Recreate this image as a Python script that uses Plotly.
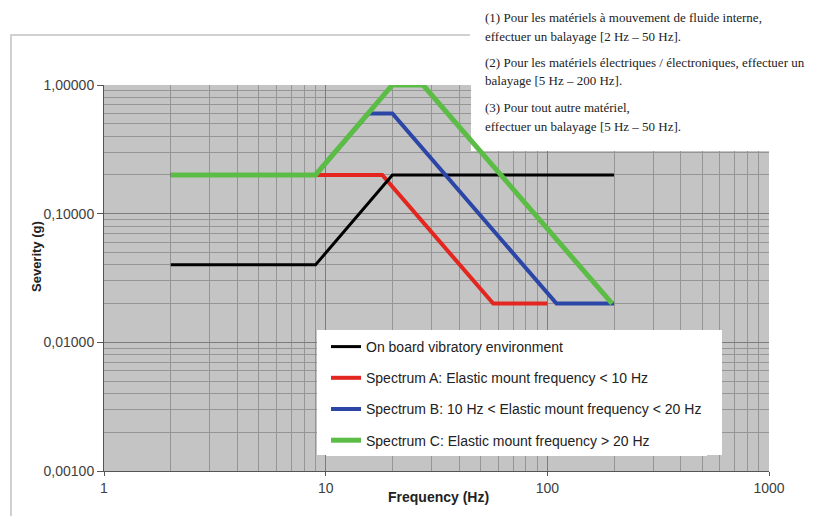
import plotly.graph_objects as go

# ---- data ----
black_f = [2, 9, 20, 200]
black_g = [0.04, 0.04, 0.2, 0.2]
red_f = [2, 18, 57, 100]
red_g = [0.2, 0.2, 0.02, 0.02]
blue_f = [2, 9, 15.6, 20, 110, 200]
blue_g = [0.2, 0.2, 0.6, 0.6, 0.02, 0.02]
green_f = [2, 9, 20, 27.5, 196]
green_g = [0.2, 0.2, 1.0, 1.0, 0.02]

names = ["On board vibratory environment",
         "Spectrum A: Elastic mount frequency < 10 Hz",
         "Spectrum B: 10 Hz < Elastic mount frequency < 20 Hz",
         "Spectrum C: Elastic mount frequency > 20 Hz"]

x_ticks = [1, 10, 100, 1000]
x_ticktext = ["1", "10", "100", "1000"]
y_ticks = [0.001, 0.01, 0.1, 1]
y_ticktext = ["0,00100", "0,01000", "0,10000", "1,00000"]

notes = ["(1) Pour les matériels à mouvement de fluide interne,",
         "effectuer un balayage [2 Hz – 50 Hz].",
         "(2) Pour les matériels électriques / électroniques, effectuer un",
         "balayage [5 Hz – 200 Hz].",
         "(3) Pour tout autre matériel,",
         "effectuer un balayage [5 Hz – 50 Hz]."]
note_y_px = [17, 36, 62, 81, 107, 126]

# ---- layout (reference pixel coordinates; page body has an 8px margin) ----
OFF = 8
PW, PH = 814, 516
W, H = PW - OFF, PH - OFF
L, R, T, B = 104, 769, 85, 471   # plot area in page pixels

def px(xp):
    return (xp - L) / (R - L)

def py(yp):
    return (B - yp) / (B - T)

def fx(xp):   # page pixel -> frequency (log axis 1..1000)
    return 10 ** (3 * px(xp))

def fy(yp):   # page pixel -> severity (log axis 0.001..1)
    return 10 ** (-3 + 3 * py(yp))

x_minor = [m * 10 ** d for d in range(0, 3) for m in range(2, 10)]
y_minor = [m * 10 ** d for d in range(-3, 0) for m in range(2, 10)]

fig = go.Figure()
# white note box masking the grid (drawn under the curves)
bx0, by0 = fx(471), fy(151)
fig.add_trace(go.Scatter(x=[bx0, 1000, 1000, bx0, bx0], y=[by0, by0, 1, 1, by0],
                         mode="lines", fill="toself", fillcolor="white",
                         line=dict(width=0, color="white"), showlegend=False, hoverinfo="skip"))
fig.add_trace(go.Scatter(x=red_f, y=red_g, mode="lines", name=names[1], legendrank=2,
                         line=dict(color="#e3261f", width=4), legendgroup="a"))
fig.add_trace(go.Scatter(x=black_f, y=black_g, mode="lines", name=names[0], legendrank=1,
                         line=dict(color="#000000", width=3), legendgroup="k"))
fig.add_trace(go.Scatter(x=blue_f, y=blue_g, mode="lines", name=names[2], legendrank=3,
                         line=dict(color="#2c46a8", width=4), legendgroup="b"))
fig.add_trace(go.Scatter(x=green_f, y=green_g, mode="lines", name=names[3], legendrank=4,
                         line=dict(color="#5bbd45", width=5), legendgroup="c"))

tickfont = dict(family="Liberation Sans, Arial", size=14, color="#404040")
fig.update_xaxes(type="log", range=[0, 3], tickvals=x_ticks, ticktext=x_ticktext,
                 showgrid=True, gridcolor="#7c7c7c", gridwidth=1,
                 minor=dict(tickvals=x_minor, showgrid=True, gridcolor="#959595", gridwidth=1, ticks=""),
                 showline=True, linecolor="#555555", linewidth=1, ticks="outside", ticklen=4,
                 tickcolor="#555555", tickfont=tickfont, zeroline=False)
fig.update_yaxes(type="log", range=[-3, 0], tickvals=y_ticks, ticktext=y_ticktext,
                 showgrid=True, gridcolor="#7c7c7c", gridwidth=1,
                 minor=dict(tickvals=y_minor, showgrid=True, gridcolor="#959595", gridwidth=1, ticks=""),
                 showline=True, linecolor="#555555", linewidth=1, ticks="outside", ticklen=6,
                 tickcolor="#555555", tickfont=tickfont, zeroline=False)

shapes = [
    # outer chart frame (left and top edges)
    dict(type="path", xref="paper", yref="paper",
         path=f"M {px(11)} {py(PH + 5)} L {px(11)} {py(35)} L {px(470)} {py(35)}",
         line=dict(color="#d0d0d0", width=2)),
    # legend background box
    dict(type="rect", xref="paper", yref="paper", x0=px(317), x1=px(722), y0=py(455), y1=py(330),
         fillcolor="white", line=dict(width=0), layer="above"),
]

annotations = []
for t, yp in zip(notes, note_y_px):
    annotations.append(dict(text=t, xref="paper", yref="paper", x=px(483), y=py(yp),
                            xanchor="left", yanchor="middle", showarrow=False,
                            font=dict(family="Liberation Serif, Times New Roman", size=13, color="#222222")))
annotations.append(dict(text="<b>Severity (g)</b>", xref="paper", yref="paper", x=px(36), y=py(257),
                        xanchor="center", yanchor="middle", textangle=-90, showarrow=False,
                        font=dict(family="Liberation Sans, Arial", size=13, color="#222222")))
annotations.append(dict(text="<b>Frequency (Hz)</b>", xref="paper", yref="paper", x=px(438), y=py(497),
                        xanchor="center", yanchor="middle", showarrow=False,
                        font=dict(family="Liberation Sans, Arial", size=14, color="#222222")))

fig.update_layout(
    width=W, height=H,
    margin=dict(l=L - OFF, r=PW - R, t=T - OFF, b=PH - B),
    paper_bgcolor="white", plot_bgcolor="#c4c4c4",
    showlegend=True,
    legend=dict(x=px(326), y=py(331), xanchor="left", yanchor="top", bgcolor="white",
                borderwidth=0, tracegroupgap=10, traceorder="grouped",
                font=dict(family="Liberation Sans, Arial", size=14, color="#222222")),
    shapes=shapes, annotations=annotations,
)

fig.write_html("out.html")
